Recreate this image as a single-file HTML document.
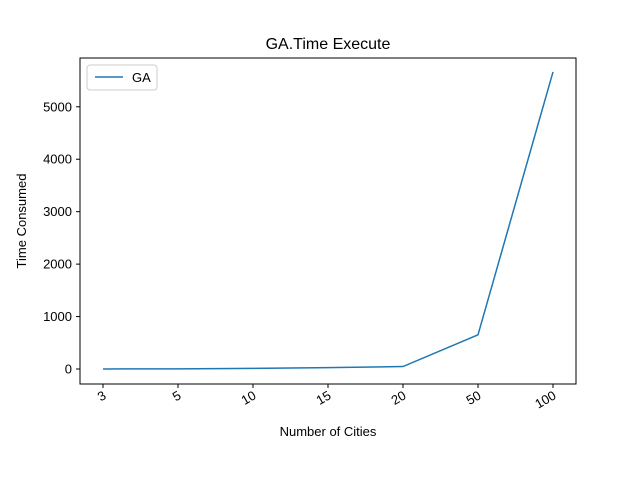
<!DOCTYPE html>
<html><head><meta charset="utf-8"><style>body{margin:0;background:#fff}svg{display:block;font-family:"Liberation Sans","DejaVu Sans",sans-serif}</style></head>
<body>
<svg id="chart" width="640" height="480">
<rect width="640" height="480" fill="#fff"/>
<text x="328" y="49" font-size="16" text-anchor="middle">GA.Time Execute</text>
<g id="plot"></g>
<rect x="80" y="58" width="496" height="326" fill="none" stroke="#000" stroke-width="1"/>
<text x="328" y="436" font-size="13" text-anchor="middle">Number of Cities</text>
<text x="26" y="221" font-size="13" text-anchor="middle" transform="rotate(-90 26 221)">Time Consumed</text>
<g>
<rect x="87" y="65" width="70" height="25" rx="3" fill="#fff" stroke="#ccc"/>
<line x1="95" y1="77" x2="123" y2="77" stroke="#1f77b4" stroke-width="1.5"/>
<text x="132" y="82" font-size="13">GA</text>
</g>
</svg>
<script>
const categories = ["3","5","10","15","20","50","100"];
const gaValues = [1, 2, 12, 27, 47, 652, 5665];
const yTicks = [0,1000,2000,3000,4000,5000];
const NS="http://www.w3.org/2000/svg";
const g=document.getElementById('plot');
function xs(i){return 103+i*75;}
function ys(v){return 369-v*0.05244;}
function mk(t,a){const e=document.createElementNS(NS,t);for(const k in a)e.setAttribute(k,a[k]);g.appendChild(e);return e;}
yTicks.forEach(v=>{
 const l=mk('line',{x1:76,x2:80,y1:ys(v),y2:ys(v),stroke:'#000'});
 
 
 const t=mk('text',{x:72,y:ys(v)+4.5,'font-size':13,'text-anchor':'end'});t.textContent=v;
 
 
});
categories.forEach((c,i)=>{
 const x=xs(i);
 const l=mk('line',{x1:x,x2:x,y1:384,y2:388,stroke:'#000'});
 
 
 const t=mk('text',{x:x+4,y:398,'font-size':13,'text-anchor':'end',transform:`rotate(-30 ${x+4} 398)`});t.textContent=c;
 
 
});
const p=mk('polyline',{points:gaValues.map((v,i)=>xs(i)+','+ys(v)).join(' '),fill:'none',stroke:'#1f77b4','stroke-width':1.5});


</script>
</body></html>
